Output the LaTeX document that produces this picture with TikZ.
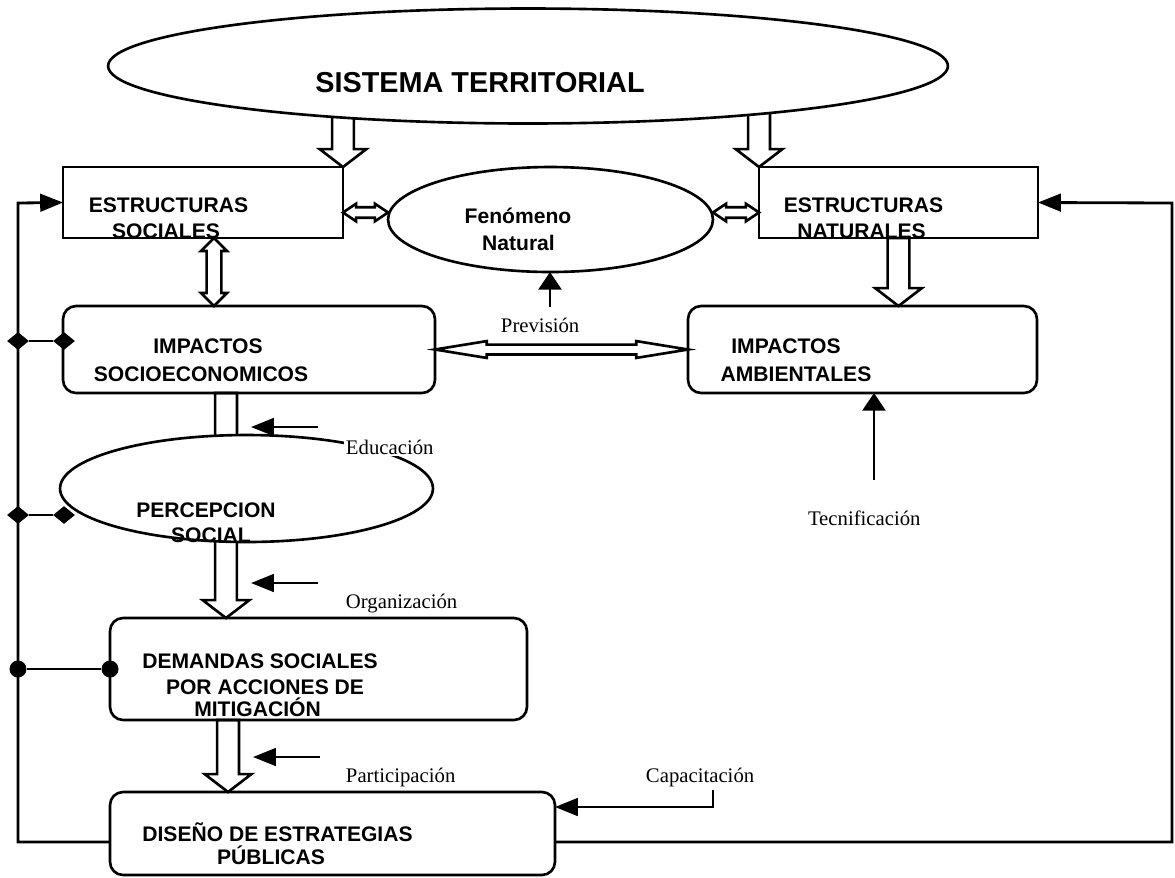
\documentclass[tikz,border=0pt]{standalone}
\usepackage{fontspec}
\setmainfont{Liberation Serif}
\setsansfont{Liberation Sans}
\usetikzlibrary{shapes.geometric,arrows.meta,calc,backgrounds}

% hollow block arrow pointing down: #1 start (gives x), #2 tip (gives y)
\newcommand{\blockdown}[2]{%
  \draw[blockarrow] let \p1=(#1), \p2=(#2) in
    (\x1-6.2pt,\y1) -- (\x1+6.2pt,\y1) -- (\x1+6.2pt,\y2+10.2pt) -- (\x1+13.3pt,\y2+10.2pt)
    -- (\x1,\y2) -- (\x1-13.3pt,\y2+10.2pt) -- (\x1-6.2pt,\y2+10.2pt) -- cycle;}
% hollow double arrow, vertical: #1 top, #2 bottom, #3 shaft, #4 head, #5 head length
\newcommand{\blockupdown}[5]{%
  \draw[blockarrow] let \p1=(#1), \p2=(#2) in
    (\x1,\y1) -- (\x1+#4,\y1-#5) -- (\x1+#3,\y1-#5) -- (\x1+#3,\y2+#5) -- (\x1+#4,\y2+#5)
    -- (\x1,\y2) -- (\x1-#4,\y2+#5) -- (\x1-#3,\y2+#5) -- (\x1-#3,\y1-#5) -- (\x1-#4,\y1-#5) -- cycle;}
% hollow double arrow, horizontal: #1 left, #2 right
\newcommand{\blockleftright}[5]{%
  \draw[blockarrow] let \p1=(#1), \p2=(#2) in
    (\x1,\y1) -- (\x1+#5,\y1+#4) -- (\x1+#5,\y1+#3) -- (\x2-#5,\y1+#3) -- (\x2-#5,\y1+#4)
    -- (\x2,\y1) -- (\x2-#5,\y1-#4) -- (\x2-#5,\y1-#3) -- (\x1+#5,\y1-#3) -- (\x1+#5,\y1-#4) -- cycle;}

\begin{document}
\begin{tikzpicture}[x=0.02cm, y=-0.02cm, line width=1.4pt,
    box/.style={draw, line width=1.5pt, inner sep=0pt, outer sep=0pt},
    rbox/.style={box, rounded corners=0.26cm},
    oval/.style={box, ellipse, fill=white},
    caps/.style={font=\sffamily\bfseries\fontsize{12}{14}\selectfont, anchor=base, inner sep=0pt},
    lbl/.style={font=\fontsize{11.8}{14}\selectfont, anchor=base west, inner sep=1pt},
    blockarrow/.style={line width=1.5pt, fill=white},
    link/.style={line width=1.6pt},
    harr/.style={link, -{Triangle[length=13pt,width=10pt]}},
    varr/.style={link, -{Triangle[length=10pt,width=13pt]}},
    dmd/.style={diamond, fill, inner sep=0pt, minimum width=0.44cm, minimum height=0.36cm},
    dot/.style={circle, fill, inner sep=0pt, minimum size=0.34cm}]
    \useasboundingbox (0,0) rectangle (1175,877);

    % cajas
    \node[oval, minimum width=16.8cm, minimum height=2.3cm] (st) at (528,66) {};
    \node[box, minimum width=5.6cm, minimum height=1.42cm] (ss) at (203,202.5) {};
    \node[oval, minimum width=6.5cm, minimum height=2.1cm] (fn) at (550.5,219.5) {};
    \node[box, minimum width=5.58cm, minimum height=1.42cm] (nat) at (898.5,202.5) {};
    \node[rbox, minimum width=7.44cm, minimum height=1.74cm] (is) at (249,349.5) {};
    \node[rbox, minimum width=6.98cm, minimum height=1.74cm] (ai) at (862.5,349.5) {};
    \node[oval, minimum width=7.46cm, minimum height=2.14cm] (ps) at (246.5,488.5) {};
    \node[rbox, minimum width=8.34cm, minimum height=2.04cm] (dm) at (318.5,669) {};
    \node[rbox, minimum width=8.9cm, minimum height=1.66cm] (dis) at (332.5,833.5) {};

    % textos
    \node[caps, font=\sffamily\bfseries\fontsize{16.4}{18}\selectfont] (tst) at (480,92) {SISTEMA TERRITORIAL};
    \node[caps] (tss1) at (168.5,212) {ESTRUCTURAS};
    \node[caps] (tss2) at (166,238) {SOCIALES};
    \node[caps] (tfn1) at (518,223) {Fenómeno};
    \node[caps] (tfn2) at (518.5,250) {Natural};
    \node[caps] (tnat1) at (863.5,212) {ESTRUCTURAS};
    \node[caps] (tnat2) at (861.5,238) {NATURALES};
    \node[caps] (tis1) at (208,353) {IMPACTOS};
    \node[caps] (tis2) at (201,381) {SOCIOECONOMICOS};
    \node[caps] (tai1) at (786,353) {IMPACTOS};
    \node[caps] (tai2) at (796,381) {AMBIENTALES};
    \node[caps] (tps1) at (206,517) {PERCEPCION};
    \node[caps] (tps2) at (211,542) {SOCIAL};
    \node[caps] (tdm1) at (260,668) {DEMANDAS SOCIALES};
    \node[caps] (tdm2) at (265,694) {POR ACCIONES DE};
    \node[caps] (tdm3) at (257.5,716) {MITIGACIÓN};
    \node[caps] (tdis1) at (277.5,841) {DISEÑO DE ESTRATEGIAS};
    \node[caps] (tdis2) at (271,864) {PÚBLICAS};

    \node[lbl] (lpv) at (498,332) {Previsión};
    \node[lbl, fill=white] (led) at (343,454) {Educación};
    \node[lbl] (lor) at (343,608) {Organización};
    \node[lbl] (lpa) at (343,782) {Participación};
    \node[lbl] (lca) at (643,782) {Capacitación};
    \node[lbl] (lte) at (805,525) {Tecnificación};

    % flechas huecas
    \begin{pgfonlayer}{background}
        \blockdown{st.center -| ss.north east}{ss.north east}
        \blockdown{st.center -| nat.north west}{nat.north west}
        \blockdown{nat.south}{ai.north}
        \blockdown{$(is.south west)+(163,0)$}{ps.center}
        \blockdown{$(ps.center)+(-20.5,0)$}{dm.north}
        \blockdown{$(dm.south west)+(118,0)$}{dis.north}
    \end{pgfonlayer}
    \blockupdown{$(ss.south)+(11,0)$}{is.north}{4.2pt}{7.4pt}{7.4pt}
    \blockleftright{$(ss.east)+(0,10)$}{fn.west}{3pt}{5pt}{7.5pt}
    \blockleftright{$(fn.east)+(0,-7)$}{nat.west}{3pt}{5pt}{7.5pt}
    \blockleftright{is.east}{ai.west}{2.8pt}{4.8pt}{29.5pt}

    % flechas de accion
    \coordinate (pv) at (550,307);
    \draw[varr] (pv) -- (pv |- fn.south);
    \coordinate (tc) at (874,480);
    \draw[varr] (tc) -- (tc |- ai.south);
    \coordinate (ed) at (318,427);
    \coordinate (ed tip) at (251,427);
    \draw[harr] (ed) -- (ed tip);
    \coordinate (or) at (318,583);
    \coordinate (or tip) at (251,583);
    \draw[harr] (or) -- (or tip);
    \coordinate (pa) at (320,757);
    \coordinate (pa tip) at (253,757);
    \draw[harr] (pa) -- (pa tip);
    \coordinate (ca) at (713,790);
    \coordinate (ca turn) at (713,807);
    \draw[harr] (ca) -- (ca turn) -- (ca turn -| dis.east);

    % retroalimentacion
    \coordinate (fbl) at (18,203);
    \coordinate (fbr) at (1172,203);
    \draw[harr] ($(dis.west)+(0,8.5)$) -| (fbl) -- (ss.west);
    \draw[harr] ($(dis.east)+(0,8.5)$) -| (fbr) -- (nat.east);

    \node[dmd] (d1) at (18,341) {};
    \node[dmd] (d2) at (64,341) {};
    \draw[link] (d1) -- (d2);
    \node[dmd] (d3) at (18,515) {};
    \node[dmd] (d4) at (64,515) {};
    \draw[link] (d3) -- (d4);
    \node[dot] (c1) at (18,669) {};
    \node[dot] (c2) at (dm.west) {};
    \draw[link] (c1) -- (c2);
\end{tikzpicture}
\end{document}
